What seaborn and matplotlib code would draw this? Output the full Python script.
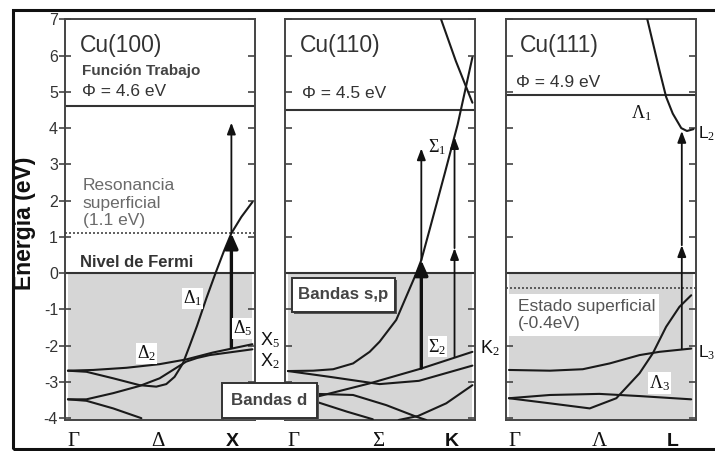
import numpy as np
import matplotlib
matplotlib.use("Agg")
import matplotlib.pyplot as plt
from matplotlib.patches import Rectangle
import seaborn as sns

# ---------------- data ----------------
E_TICKS = list(range(-4, 8))
KPATH_POS = [0.03, 0.49, 0.89]
KPATH_LABELS = [["Γ", "Δ", "X"], ["Γ", "Σ", "K"], ["Γ", "Λ", "L"]]
SURFACES = ["Cu(100)", "Cu(110)", "Cu(111)"]
WORK_FUNCTION = [4.6, 4.5, 4.9]
SURFACE_STATE_100 = 1.1
SURFACE_STATE_111 = -0.4

# Cu(100): Gamma -> X
d1_k = [0, 0.10, 0.245, 0.389, 0.479, 0.533, 0.578, 0.623, 0.66, 0.70, 0.75, 0.80, 0.845, 0.886, 0.94, 1.0]
d1_e = [-2.69, -2.72, -2.90, -3.09, -3.13, -3.06, -2.86, -2.49, -2.0, -1.45, -0.7, 0.0, 0.6, 1.1, 1.55, 1.96]
d2_k = [0, 0.137, 0.317, 0.497, 0.641, 0.785, 1.0]
d2_e = [-2.69, -2.67, -2.61, -2.51, -2.38, -2.19, -1.96]
d5_k = [0, 0.10, 0.245, 0.389, 0.497, 0.569, 0.641, 0.70, 0.768, 1.0]
d5_e = [-3.48, -3.48, -3.31, -3.11, -2.90, -2.67, -2.44, -2.34, -2.26, -2.10]
dlow_k = [0, 0.10, 0.245, 0.398]
dlow_e = [-3.48, -3.52, -3.73, -4.0]

# Cu(110): Gamma -> K
s1_k = [0, 0.137, 0.245, 0.353, 0.443, 0.497, 0.587, 0.696, 0.723, 0.768, 0.85, 0.92, 1.0]
s1_e = [-2.70, -2.69, -2.65, -2.49, -2.17, -1.89, -1.29, 0.0, 0.36, 1.2, 2.75, 4.1, 5.95]
sup_k = [0.83, 0.91, 1.0]
sup_e = [7.0, 5.85, 4.7]
s2_k = [0, 0.155, 0.443, 0.723, 1.0]
s2_e = [-3.48, -3.41, -3.04, -2.63, -2.17]
sa_k = [0, 0.227, 0.497, 0.71, 1.0]
sa_e = [-2.70, -2.86, -3.06, -2.97, -2.55]
sb_k = [0, 0.155, 0.353, 0.533, 0.696, 0.75]
sb_e = [-3.45, -3.33, -3.36, -3.64, -3.96, -4.05]
sc_k = [0.60, 0.705, 0.858, 1.0]
sc_e = [-4.05, -3.94, -3.59, -3.09]
sd_k = [0, 0.155, 0.32, 0.46]
sd_e = [-3.45, -3.55, -3.82, -4.03]

# Cu(111): Gamma -> L
l1_k = [0.75, 0.816, 0.852, 0.888, 0.934, 0.965, 1.0]
l1_e = [7.0, 5.59, 4.86, 4.40, 4.0, 3.92, 3.97]
l3_k = [0, 0.222, 0.438, 0.582, 0.708, 0.78, 0.852, 0.924, 0.988]
l3_e = [-3.45, -3.59, -3.73, -3.45, -2.76, -2.21, -1.48, -0.93, -0.61]
lflat_k = [0, 0.222, 0.40, 0.546, 0.708, 0.816, 0.988]
lflat_e = [-2.67, -2.69, -2.65, -2.49, -2.26, -2.17, -2.08]
llow_k = [0, 0.222, 0.49, 0.708, 0.988]
llow_e = [-3.45, -3.36, -3.33, -3.39, -3.48]

# optical transitions: (k, start, end, style)
trans_100 = [(0.886, -2.05, 1.1, "thick"), (0.886, 1.1, 4.15, "thin")]
trans_110 = [(0.723, -2.62, 0.36, "thick"), (0.723, 0.36, 3.44, "thin"),
             (0.903, -2.30, 0.69, "thin"), (0.903, 0.69, 3.75, "thin")]
trans_111 = [(0.937, -2.08, 0.77, "thin"), (0.937, 0.77, 3.92, "thin")]

# ---------------- style ----------------
W, H = 715, 451
sns.set_style("white")
plt.rcParams["font.family"] = ["Liberation Sans", "DejaVu Sans"]
plt.rcParams["axes.unicode_minus"] = False
plt.rcParams["mathtext.fontset"] = "custom"
plt.rcParams["mathtext.rm"] = "Liberation Serif"
plt.rcParams["mathtext.it"] = "Liberation Serif:italic"
plt.rcParams["mathtext.bf"] = "Liberation Serif:bold"
plt.rcParams["mathtext.sf"] = "Liberation Sans"

fig = plt.figure(figsize=(W / 100, H / 100), dpi=100)

GRAY = "#d6d6d6"
LINE = "#1a1a1a"
SPINE = "#444444"
TXT = "#333333"

Y0, Y1 = 420, 19.3
panel_left = [65, 285, 506]
PW = 190
axes = []
for x0 in panel_left:
    ax = fig.add_axes([x0 / W, 1 - Y0 / H, PW / W, (Y0 - Y1) / H])
    axes.append(ax)


def fx(px):
    return px / W


def fy(py):
    return 1 - py / H


def band(ax, k, e):
    sns.lineplot(x=np.array(k), y=np.array(e), sort=False, estimator=None,
                 color=LINE, lw=1.5, ax=ax, zorder=3)


def arrow(ax, k, a, b, style):
    if style == "thick":
        props = dict(arrowstyle="-|>,head_length=0.45,head_width=0.2", lw=2.4,
                     color="#111111", mutation_scale=20, shrinkA=0, shrinkB=0)
    else:
        props = dict(arrowstyle="-|>,head_length=0.45,head_width=0.17", lw=1.3,
                     color="#111111", mutation_scale=15, shrinkA=0, shrinkB=0)
    ax.annotate("", xy=(k, b), xytext=(k, a), arrowprops=props, zorder=4)


def label(ax, k, e, s, size=13, ha="center", boxed_bg=True):
    t = ax.text(k, e, s, fontsize=size, ha=ha, va="center", color="#111111", zorder=5,
                bbox=dict(facecolor="white", edgecolor="none", pad=0.5) if boxed_bg else None)
    t.set_clip_on(False)
    return t


for i, ax in enumerate(axes):
    ax.set_xlim(-0.016, 1.014)
    ax.set_ylim(-4.05, 7.0)
    ax.fill_between([0, 1], -4.05, 0, color=GRAY, lw=0, zorder=0)
    ax.axhline(0, color=TXT, lw=1.5, zorder=2)
    ax.axhline(WORK_FUNCTION[i], color=TXT, lw=1.5, zorder=2)
    for sp in ax.spines.values():
        sp.set_color(SPINE)
        sp.set_linewidth(1.4)
    ax.set_yticks(E_TICKS)
    ax.tick_params(axis="y", direction="in", length=5, width=1.2, color=SPINE,
                   left=True, right=True, labelleft=(i == 0), labelsize=11.5,
                   labelcolor=TXT, pad=5)
    ax.set_xticks(KPATH_POS)
    ax.set_xticklabels(KPATH_LABELS[i])
    ax.tick_params(axis="x", length=0, pad=9)
    for j, tl in enumerate(ax.get_xticklabels()):
        if j < 2:
            tl.set_fontfamily("Liberation Serif")
            tl.set_fontsize(15)
        else:
            tl.set_fontfamily("Liberation Sans")
            tl.set_fontweight("bold")
            tl.set_fontsize(14)
        tl.set_color("#111111")
    ax.set_xlabel("")
    ax.set_ylabel("")
    ax.text(0.065 if i < 2 else 0.059, 6.28, SURFACES[i], fontsize=16.5, color=TXT,
            va="center", ha="left")

# left ticks of the first panel cross the frame line
for tk in axes[0].yaxis.get_major_ticks():
    tk.tick1line.set_marker("_")
    tk.tick1line.set_markersize(9)

ax1, ax2, ax3 = axes

# ---- Cu(100)
ax1.text(0.076, 5.57, "Función Trabajo", fontsize=11, fontweight="bold", color="#444444",
         va="center", ha="left")
ax1.text(0.076, 5.0, f"Φ = {WORK_FUNCTION[0]} eV", fontsize=12.5, color=TXT, va="center", ha="left")
for e, s in [(2.42, "Resonancia"), (1.93, "superficial"), (1.46, f"({SURFACE_STATE_100} eV)")]:
    ax1.text(0.081, e, s, fontsize=12.5, color="#6a6a6a", va="center", ha="left")
ax1.axhline(SURFACE_STATE_100, color="#444444", lw=1.2, ls=(0, (1.2, 1.2)), zorder=2)
ax1.text(0.065, 0.30, "Nivel de Fermi", fontsize=12, fontweight="bold", color=TXT,
         va="center", ha="left")
for k, e in [(d1_k, d1_e), (d2_k, d2_e), (d5_k, d5_e), (dlow_k, dlow_e)]:
    band(ax1, k, e)
for tr in trans_100:
    arrow(ax1, *tr)
label(ax1, 0.676, -0.69, r"$\Delta_1$")
label(ax1, 0.425, -2.21, r"$\Delta_2$")
label(ax1, 0.945, -1.52, r"$\Delta_5$")
label(ax1, 1.04, -1.86, r"$\mathsf{X}_5$", size=13, ha="left", boxed_bg=False)
label(ax1, 1.04, -2.44, r"$\mathsf{X}_2$", size=13, ha="left", boxed_bg=False)

# ---- Cu(110)
ax2.text(0.074, 4.96, f"Φ = {WORK_FUNCTION[1]} eV", fontsize=12.5, color=TXT, va="center", ha="left")
for k, e in [(s1_k, s1_e), (sup_k, sup_e), (s2_k, s2_e), (sa_k, sa_e),
             (sb_k, sb_e), (sc_k, sc_e), (sd_k, sd_e)]:
    band(ax2, k, e)
for tr in trans_110:
    arrow(ax2, *tr)
label(ax2, 0.81, 3.48, r"$\Sigma_1$")
label(ax2, 0.81, -2.03, r"$\Sigma_2$")
label(ax2, 1.04, -2.07, r"$\mathsf{K}_2$", size=13, ha="left", boxed_bg=False)

# ---- Cu(111)
ax3.text(0.038, 5.27, f"Φ = {WORK_FUNCTION[2]} eV", fontsize=12.5, color=TXT, va="center", ha="left")
ax3.axhline(SURFACE_STATE_111, color="#444444", lw=1.2, ls=(0, (1.2, 1.2)), zorder=2)
ax3.add_patch(Rectangle((-0.016, -1.73), 0.832, 1.16, facecolor="white", edgecolor="none", zorder=1))
ax3.text(0.05, -0.93, "Estado superficial", fontsize=12.5, color="#555555", va="center", ha="left", zorder=5)
ax3.text(0.05, -1.40, f"({SURFACE_STATE_111}eV)", fontsize=12.5, color="#555555", va="center", ha="left", zorder=5)
for k, e in [(l1_k, l1_e), (l3_k, l3_e), (lflat_k, lflat_e), (llow_k, llow_e)]:
    band(ax3, k, e)
for tr in trans_111:
    arrow(ax3, *tr)
label(ax3, 0.717, 4.40, r"$\Lambda_1$")
label(ax3, 0.816, -3.03, r"$\Lambda_3$")
label(ax3, 1.025, 3.85, r"$\mathsf{L}_2$", size=12.5, ha="left", boxed_bg=False)
label(ax3, 1.025, -2.2, r"$\mathsf{L}_3$", size=12.5, ha="left", boxed_bg=False)

# ---- boxed captions
def boxed(x0, y0, x1, y1, text):
    fig.add_artist(Rectangle((fx(x0 + 2), fy(y1 + 2)), fx(x1 - x0), fy(y0) - fy(y1),
                             transform=fig.transFigure, facecolor="#555555",
                             edgecolor="none", zorder=10))
    fig.add_artist(Rectangle((fx(x0), fy(y1)), fx(x1 - x0), fy(y0) - fy(y1),
                             transform=fig.transFigure, facecolor="white",
                             edgecolor="#333333", lw=1.4, zorder=11))
    fig.text(fx((x0 + x1) / 2), fy((y0 + y1) / 2), text, fontsize=12.2, fontweight="bold",
             color="#444444", ha="center", va="center", zorder=12)


boxed(291.7, 278.3, 395, 311.7, "Bandas s,p")
boxed(221.7, 382.7, 316.7, 418.3, "Bandas d")

# ---- axis label and outer frame
fig.text(fx(24.5), fy(223), "Energía (eV)", rotation=90, fontsize=16.5, fontweight="bold",
         color="#111111", ha="center", va="center")
fig.add_artist(Rectangle((fx(13), fy(449)), 1.05, fy(10) - fy(449), transform=fig.transFigure,
                         facecolor="none", edgecolor="#111111", lw=2.2, zorder=20))

fig.savefig("out.png", dpi=100)
